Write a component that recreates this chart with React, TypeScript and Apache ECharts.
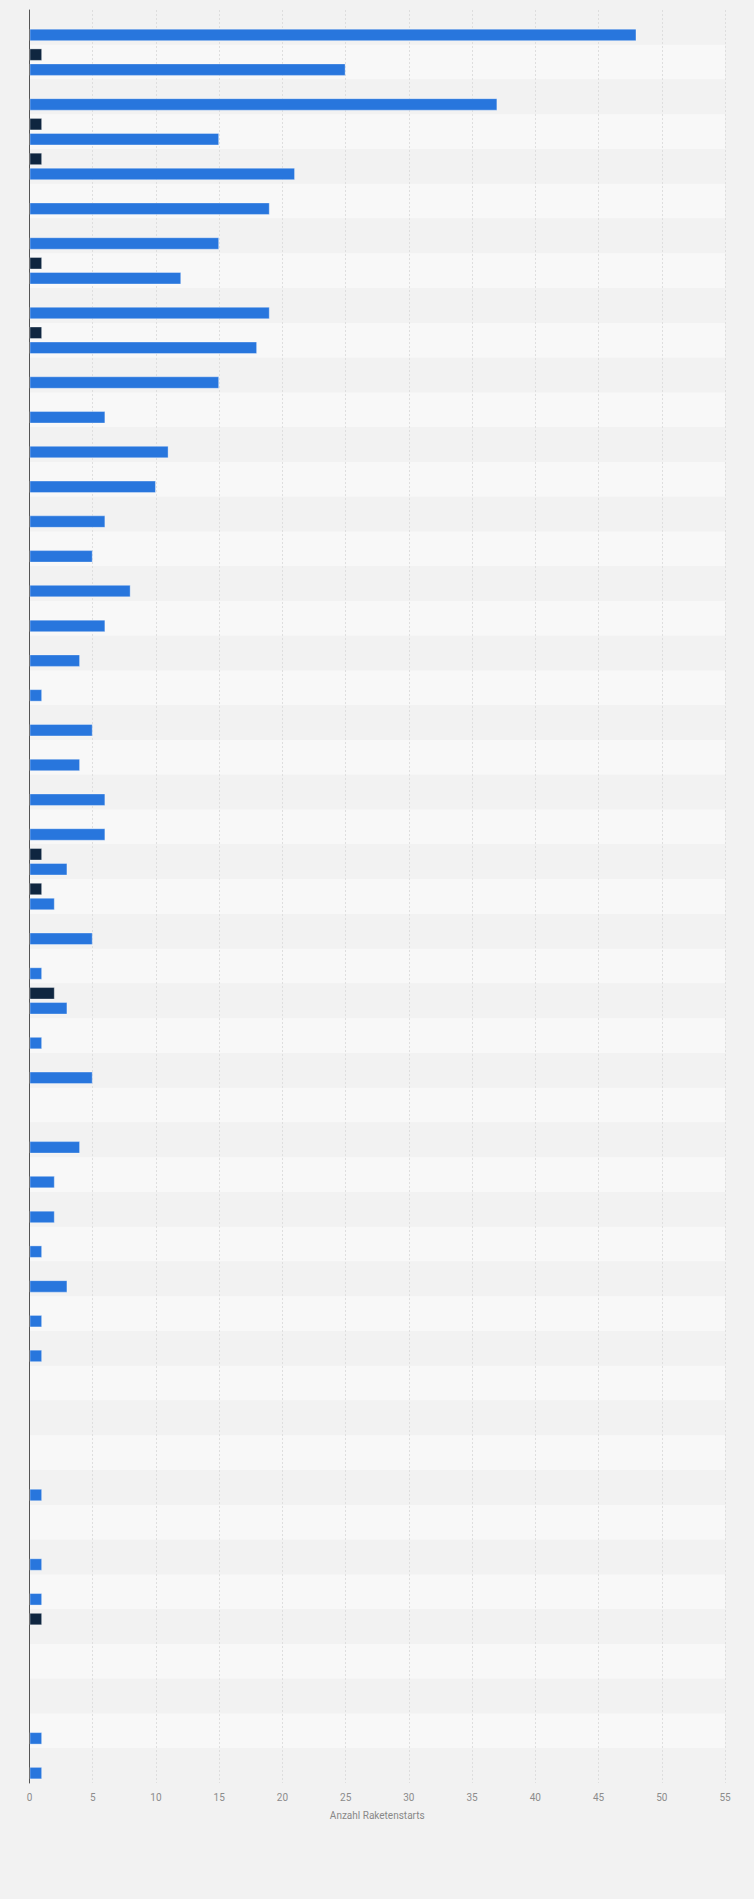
import * as React from "react";
import * as echarts from "echarts";

// Raketenstarts je Zeile — blaue und dunkle Balken, keine sichtbaren Kategorienamen.
const categories = Array.from({ length: 51 }, (_, i) => String(i + 1));

const blueValues: (number | null)[] = [
  48, 25, 37, 15, 21, 19, 15, 12, 19, 18, 15,
  6, 11, 10, 6, 5, 8, 6, 4, 1, 5, 4, 6, 6,
  3, 2, 5, 1, 3, 1, 5, null,
  4, 2, 2, 1, 3, 1, 1, null, null, null,
  1, null, 1, 1, null, null, null, 1, 1,
];

const darkValues: (number | null)[] = [
  null, 1, null, 1, 1, null, null, 1, null, 1, null,
  null, null, null, null, null, null, null, null, null, null, null, null, null,
  1, 1, null, null, 2, null, null, null,
  null, null, null, null, null, null, null, null, null, null,
  null, null, null, null, 1, null, null, null, null,
];

const xTicks = [0, 55, 5]; // min, max, interval

export default function App() {
  const ref = React.useRef<HTMLDivElement | null>(null);

  React.useEffect(() => {
    document.body.style.margin = "0";
    if (!ref.current) return;
    const chart = echarts.init(ref.current, undefined, { renderer: "svg" });
    chart.setOption({
      animation: false,
      backgroundColor: "#f2f2f2",
      textStyle: { fontFamily: "Roboto, sans-serif" },
      grid: { left: 29.5, right: 29, top: 10, bottom: 116 },
      xAxis: {
        type: "value",
        min: xTicks[0], max: xTicks[1], interval: xTicks[2],
        name: "Anzahl Raketenstarts",
        nameLocation: "middle",
        nameGap: 27,
        nameTextStyle: { color: "#888", fontSize: 10 },
        axisLine: { show: false },
        axisTick: { show: false },
        axisLabel: { color: "#8c8c8c", fontSize: 10, margin: 9 },
        splitLine: { lineStyle: { color: "#dedede", type: [2, 2], width: 1 } },
      },
      yAxis: {
        type: "category",
        data: categories,
        inverse: true,
        axisLine: { show: true, lineStyle: { color: "#555", width: 1 } },
        axisTick: { show: false },
        axisLabel: { show: false },
        splitArea: { show: true, areaStyle: { color: ["#f2f2f2", "#f8f8f8"] } },
      },
      series: [
        {
          type: "bar", name: "dunkel", data: darkValues,
          barWidth: 12.5, barGap: "20%",
          itemStyle: { color: "#0f2640", borderColor: "rgba(255,255,255,0.35)", borderWidth: 1 },
        },
        {
          type: "bar", name: "blau", data: blueValues,
          barWidth: 12.5, barGap: "20%",
          itemStyle: { color: "#2876dd", borderColor: "rgba(255,255,255,0.35)", borderWidth: 1 },
        },
      ],
    });
    return () => chart.dispose();
  }, []);

  return <div ref={ref} style={{ width: 754, height: 1899 }} />;
}
